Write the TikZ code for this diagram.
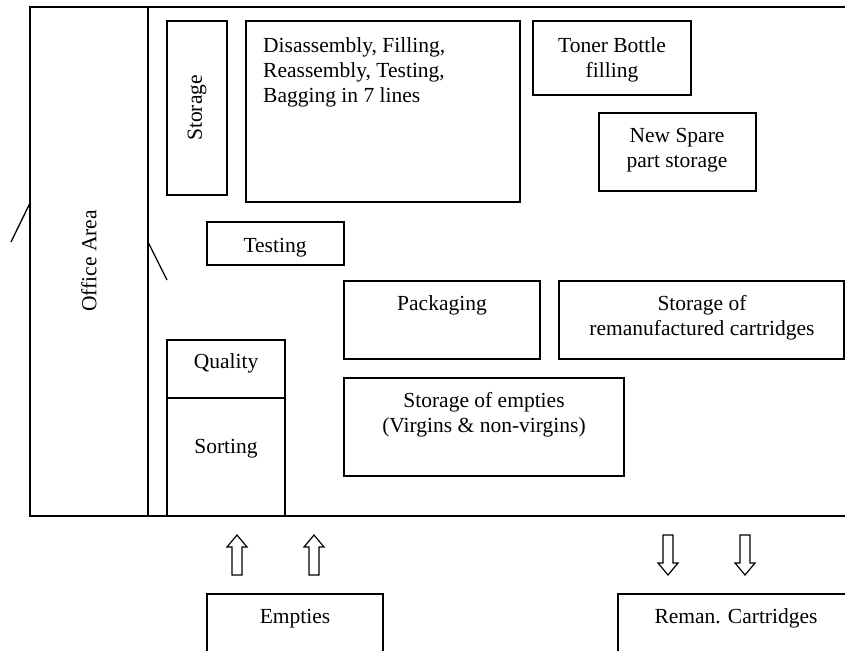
\documentclass[tikz,border=0pt]{standalone}
\usepackage{fontspec}
\setmainfont{Liberation Serif}
\usetikzlibrary{fit}

% one unit = one point, y grows downwards
\tikzset{
  x=1pt, y=-1pt,
  wall/.style={line width=1.3pt},
  room/.style={draw, line width=1.3pt, inner sep=0pt, fit={#1}},
  lbl/.style={font=\fontsize{21.5}{25}\selectfont, inner sep=0pt, align=center},
  flow/.style={draw, line width=1.2pt, fill=white, line join=miter},
}

% block arrow pointing up, centred on x = #1
\newcommand{\uparr}[1]{%
  \draw[flow] (#1-5,575) -- (#1-5,547) -- (#1-10,547) -- (#1,535)
    -- (#1+10,547) -- (#1+5,547) -- (#1+5,575) -- cycle;}
% block arrow pointing down, centred on x = #1
\newcommand{\downarr}[1]{%
  \draw[flow] (#1-5,535) -- (#1-5,563) -- (#1-10,563) -- (#1,575)
    -- (#1+10,563) -- (#1+5,563) -- (#1+5,535) -- cycle;}

\begin{document}
\begin{tikzpicture}
\useasboundingbox (0,0) rectangle (845,650);
\clip (0,0) rectangle (845,650);

% building outline and office partition
\node[room={(30,7)(870,516)}] (hall) {};
\coordinate (partTop) at (148,7);
\coordinate (partBot) at (148,516);
\draw[wall] (partTop) -- (partBot);

% doors
\coordinate (door1a) at (30,203);
\coordinate (door1b) at (11,242);
\coordinate (door2a) at (148,242);
\coordinate (door2b) at (167,280);
\draw[wall] (door1a) -- (door1b);
\draw[wall] (door2a) -- (door2b);

\node[lbl, rotate=90] (office) at (89,261) {Office Area};

% work areas
\node[room={(167,21)(227,195)}] (storage) {};
\node[lbl, rotate=90] (storageT) at (storage.center) {Storage};

\node[room={(246,21)(520,202)}] (lines) {};
\node[lbl, align=left, anchor=north west] (linesT) at (263,37.3)
  {Disassembly, Filling,\\Reassembly, Testing,\\Bagging in 7 lines};

\node[room={(533,21)(691,95)}] (toner) {};
\node[lbl, anchor=north] (tonerT) at (612,37.3) {Toner Bottle\\filling};

\node[room={(599,113)(756,191)}] (spare) {};
\node[lbl, anchor=north] (spareT) at (677,127.6) {New Spare\\part storage};

\node[room={(207,222)(344,265)}] (testing) {};
\node[lbl, anchor=base] (testingT) at (275,252) {Testing};

\node[room={(344,281)(540,359)}] (pack) {};
\node[lbl, anchor=base] (packT) at (442,310) {Packaging};

\node[room={(559,281)(844,359)}] (reman) {};
\node[lbl, anchor=north] (remanT) at (702,295.4)
  {Storage of\\remanufactured cartridges};

\node[room={(344,378)(624,476)}] (empt) {};
\node[lbl, anchor=north] (emptT) at (484,392.4)
  {Storage of empties\\(Virgins \& non-virgins)};

\node[room={(167,340)(285,398)}] (quality) {};
\node[lbl, anchor=base] (qualityT) at (226,368) {Quality};
\node[room={(167,398)(285,516)}] (sorting) {};
\node[lbl, anchor=base] (sortingT) at (226,453) {Sorting};

% goods in and out
\uparr{237}
\uparr{314}
\downarr{668}
\downarr{745}

\node[room={(207,594)(383,670)}] (inbox) {};
\node[lbl, anchor=base] (inboxT) at (295,623) {Empties};
\node[room={(618,594)(870,670)}] (outbox) {};
\node[lbl, anchor=base] (outboxT) at (736,623) {Reman. Cartridges};
\end{tikzpicture}
\end{document}
